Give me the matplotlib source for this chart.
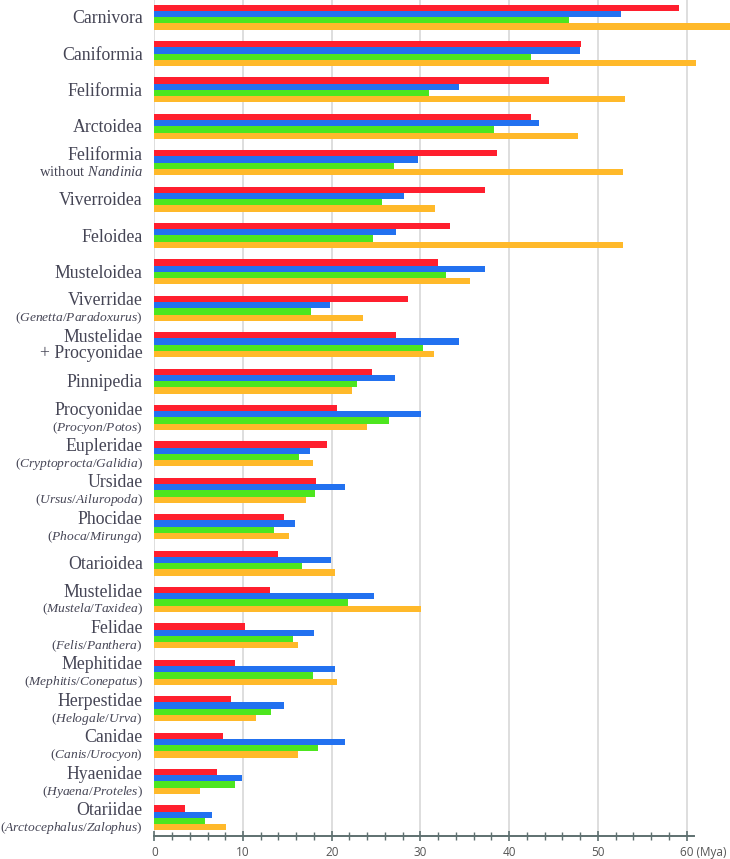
import matplotlib
matplotlib.use("Agg")
import matplotlib.pyplot as plt
from matplotlib.ticker import FixedLocator
import matplotlib.transforms as mtransforms
import numpy as np

plt.rcParams['mathtext.fontset'] = 'custom'
plt.rcParams['mathtext.rm'] = 'Liberation Serif'
plt.rcParams['mathtext.it'] = 'Liberation Serif:italic'

categories = ["Carnivora", "Caniformia", "Feliformia", "Arctoidea", "Feliformia",
              "Viverroidea", "Feloidea", "Musteloidea", "Viverridae", "Mustelidae",
              "Pinnipedia", "Procyonidae", "Eupleridae", "Ursidae", "Phocidae",
              "Otarioidea", "Mustelidae", "Felidae", "Mephitidae", "Herpestidae",
              "Canidae", "Hyaenidae", "Otariidae"]
subtitles = ["", "", "", "", r"without $\mathit{Nandinia}$",
             "", "", "", r"($\mathit{Genetta}$/$\mathit{Paradoxurus}$)", "+ Procyonidae",
             "", r"($\mathit{Procyon}$/$\mathit{Potos}$)", r"($\mathit{Cryptoprocta}$/$\mathit{Galidia}$)",
             r"($\mathit{Ursus}$/$\mathit{Ailuropoda}$)", r"($\mathit{Phoca}$/$\mathit{Mirunga}$)",
             "", r"($\mathit{Mustela}$/$\mathit{Taxidea}$)", r"($\mathit{Felis}$/$\mathit{Panthera}$)",
             r"($\mathit{Mephitis}$/$\mathit{Conepatus}$)", r"($\mathit{Helogale}$/$\mathit{Urva}$)",
             r"($\mathit{Canis}$/$\mathit{Urocyon}$)", r"($\mathit{Hyaena}$/$\mathit{Proteles}$)",
             r"($\mathit{Arctocephalus}$/$\mathit{Zalophus}$)"]

red_vals = [59.1, 48.1, 44.5, 42.5, 38.6, 37.3, 33.3, 32.0, 28.6, 27.3, 24.5, 20.6,
            19.5, 18.2, 14.6, 14.0, 13.0, 10.2, 9.1, 8.7, 7.7, 7.1, 3.5]
blue_vals = [52.6, 48.0, 34.4, 43.4, 29.7, 28.1, 27.3, 37.3, 19.8, 34.4, 27.1, 30.1,
             17.6, 21.5, 15.9, 19.9, 24.8, 18.0, 20.4, 14.6, 21.5, 9.9, 6.5]
green_vals = [46.7, 42.5, 31.0, 38.3, 27.0, 25.7, 24.6, 32.9, 17.7, 30.3, 22.9, 26.5,
              16.3, 18.1, 13.5, 16.6, 21.8, 15.6, 17.9, 13.2, 18.4, 9.1, 5.7]
orange_vals = [66.0, 61.1, 53.1, 47.8, 52.8, 31.7, 52.8, 35.6, 23.5, 31.5, 22.3, 24.0,
               17.9, 17.1, 15.2, 20.4, 30.1, 16.2, 20.6, 11.5, 16.2, 5.2, 8.05]

x_ticks = [0, 10, 20, 30, 40, 50, 60]
x_tick_labels = ["0", "10", "20", "30", "40", "50", "60 (Mya)"]

colors = ["#ff1f2e", "#2271f0", "#4de61f", "#ffb92a"]
series = [red_vals, blue_vals, green_vals, orange_vals]

fig = plt.figure(figsize=(7.30, 8.59), dpi=100)
ax = fig.add_axes([154.3 / 730, (859 - 835.7) / 859, 1 - 154.3 / 730, 835.7 / 859])

n = len(categories)
y = np.arange(n)
h = 0.172
for i, (vals, c) in enumerate(zip(series, colors)):
    ax.barh(y + (i - 1.5) * h, vals, height=h, color=c, zorder=3, linewidth=0)

ax.set_xlim(0, 64.9)
ax.set_ylim(n - 1 + 0.49, -0.47)

for xv in x_ticks:
    ax.axvline(xv, color="#dedede", lw=1.4, zorder=1)

for s in ["top", "right", "left"]:
    ax.spines[s].set_visible(False)
ax.spines["bottom"].set_color("#5e7070")
ax.spines["bottom"].set_linewidth(1.4)
ax.spines["bottom"].set_bounds(0, 60.8)

ax.set_yticks([])
ax.set_xticks(x_ticks)
ax.set_xticklabels(x_tick_labels, fontfamily="Open Sans", fontsize=8.5, color="#555555")
ax.xaxis.set_minor_locator(FixedLocator([v for v in range(0, 61, 2) if v % 10]))
ax.tick_params(axis="x", which="major", direction="inout", length=7, width=1.2, color="#5e7070", pad=4)
ax.tick_params(axis="x", which="minor", direction="inout", length=6, width=1.0, color="#5e7070")

last = ax.get_xticklabels()[-1]
last.set_horizontalalignment("left")
last.set_transform(last.get_transform() + mtransforms.ScaledTranslation(-6.5 / 100, 0, fig.dpi_scale_trans))

tr = ax.get_yaxis_transform()
xoff = -11.5 / 575.7
txtc = "#454555"
for i, (cat, sub) in enumerate(zip(categories, subtitles)):
    if sub:
        ax.text(xoff, i - 0.08, cat, transform=tr, ha="right", va="baseline",
                fontfamily="Liberation Serif", fontsize=12.8, color=txtc)
        if sub.startswith("+"):
            fs = 12.8
        elif sub.startswith("without"):
            fs = 10.5
        else:
            fs = 9.7
        ax.text(xoff, i + 0.36, sub, transform=tr, ha="right", va="baseline",
                fontfamily="Liberation Serif", fontsize=fs, color=txtc)
    else:
        ax.text(xoff, i + 0.165, cat, transform=tr, ha="right", va="baseline",
                fontfamily="Liberation Serif", fontsize=12.8, color=txtc)

fig.savefig("out.png", dpi=100)
